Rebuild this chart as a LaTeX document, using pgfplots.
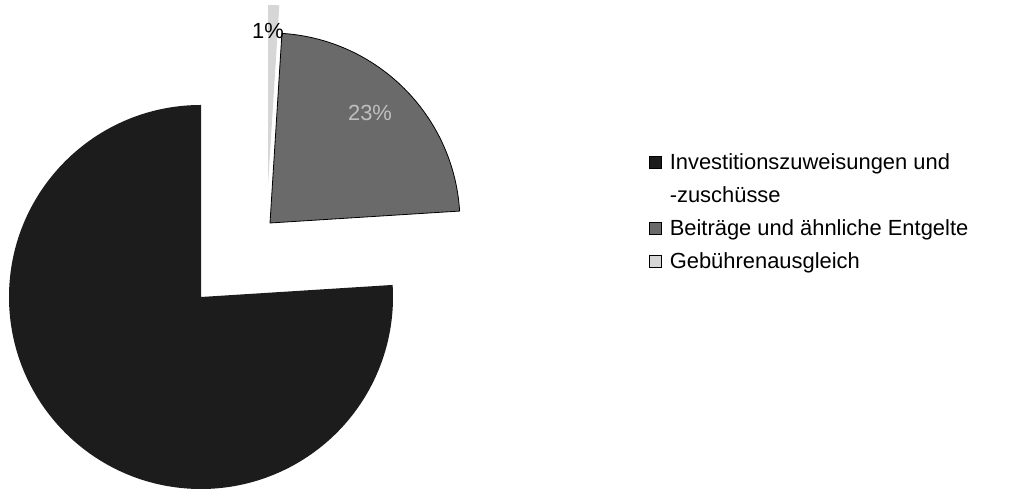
\documentclass[border=0pt]{standalone}
\usepackage{fontspec}
\setmainfont{Liberation Sans}
\usepackage{pgfplots}
\pgfplotsset{compat=1.18}
\definecolor{sliceA}{HTML}{1C1C1C}
\definecolor{sliceB}{HTML}{6A6A6A}
\definecolor{sliceC}{HTML}{D6D6D6}
\begin{document}
\begin{tikzpicture}
% shares in percent
\def\pA{76}% Investitionszuweisungen und -zuschuesse
\def\pB{23}% Beitraege und aehnliche Entgelte
\def\pC{1}%  Gebuehrenausgleich
\pgfmathsetmacro{\sB}{3.6}
\pgfmathsetmacro{\eB}{\sB+3.6*\pB}
\pgfmathsetmacro{\eC}{\eB+3.6*\pC}
\pgfmathsetmacro{\eA}{\eC+3.6*\pA}
\begin{axis}[x=0.5bp,y=0.5bp,xmin=0,xmax=1011,ymin=0,ymax=489,
  hide axis, clip=true,
  legend image code/.code={\fill[#1] (0bp,0.6bp) rectangle (5.8bp,6.6bp);},
  legend style={draw=none, fill=none, at={(axis cs:649,340)}, anchor=north west,
    inner sep=0pt, font=\fontsize{11}{14}\selectfont,
    cells={anchor=base west, inner sep=0pt, text height=8bp, text depth=3bp},
    row sep=3bp,
    /tikz/every odd column/.append style={column sep=2bp}},
]
\addlegendimage{fill=sliceA}
\addlegendentry{Investitionszuweisungen und}
\addlegendimage{empty legend}
\addlegendentry{-zuschüsse}
\addlegendimage{fill=sliceB}
\addlegendentry{Beiträge und ähnliche Entgelte}
\addlegendimage{fill=sliceC}
\addlegendentry{Gebührenausgleich}
% big slice (exploded to lower left)
\fill[sliceA] (axis cs:201,192) -- ++(\eC:96bp) arc[start angle=\eC, end angle=\eA, radius=96bp] -- cycle;
% 23% slice (exploded to upper right)
\filldraw[fill=sliceB, draw=black, line width=0.4bp] (axis cs:270,266) -- ++(\sB:95bp) arc[start angle=\sB, end angle=\eB, radius=95bp] -- cycle;
% 1% slice
\fill[sliceC] (axis cs:268,304) -- ++(\eB:90bp) arc[start angle=\eB, end angle=\eC, radius=90bp] -- cycle;
\node[font=\fontsize{11}{13}\selectfont, text=black] at (axis cs:268,458) {1\%};
\node[font=\fontsize{11}{13}\selectfont, text=black!25] at (axis cs:370,376) {23\%};
\end{axis}
\pgfresetboundingbox
\path (current axis.south west) rectangle (current axis.north east);
\end{tikzpicture}
\end{document}
